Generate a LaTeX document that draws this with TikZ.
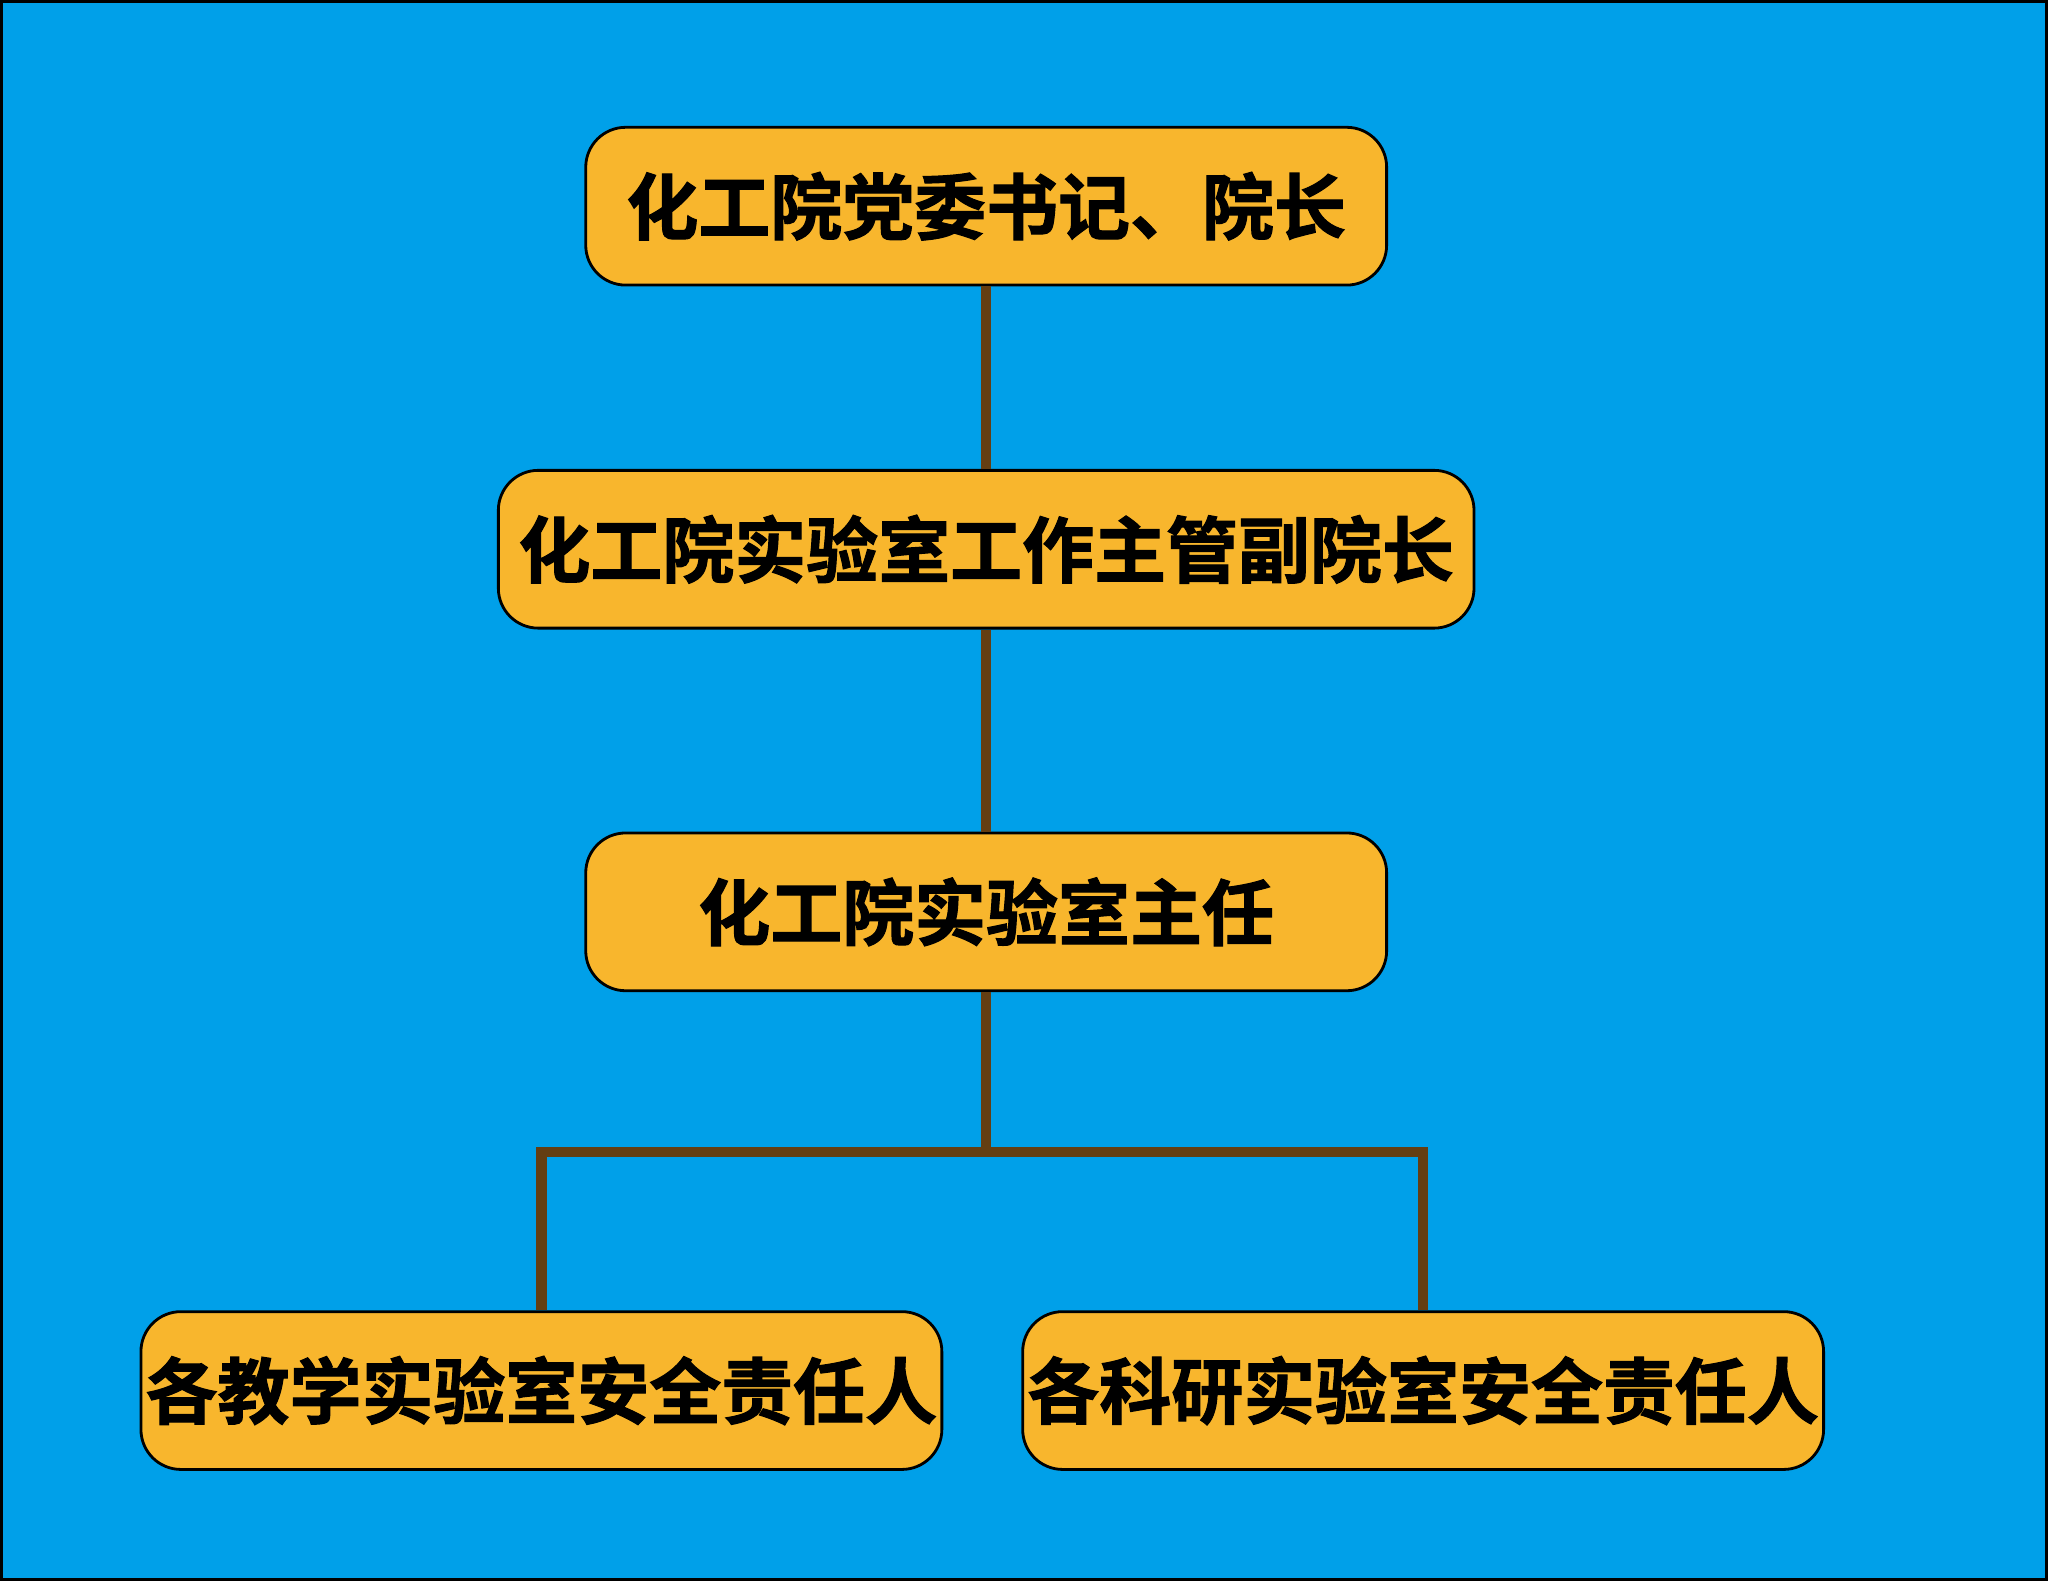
\documentclass[tikz,border=0pt]{standalone}
\usepackage{fontspec}
\newfontfamily\cjk[FakeBold=1.5]{Noto Sans CJK SC Bold}
\definecolor{bgblue}{HTML}{00A0E9}
\definecolor{boxfill}{HTML}{F8B62D}
\definecolor{linkbrown}{HTML}{643E12}
\begin{document}
\begin{tikzpicture}
	[x=0.01306cm, y=-0.01306cm,
	role/.style ={rectangle, draw=black, thick, fill=boxfill, rounded corners=0.4cm, inner xsep=0pt, minimum height=1.58cm, minimum width=8.02cm, align=center, font=\cjk\fontsize{20.5}{24}\selectfont},
	widerole/.style ={role, minimum width=9.77cm},
	link/.style ={draw=linkbrown, line width=3pt}]
	\fill[bgblue] (0,0) rectangle (1568,1210);
	\draw[black, thick] (0,0) rectangle (1568,1210);
	\useasboundingbox (0,0) rectangle (1568,1210);
	\draw (755, 157) node[role] (dean) {化工院党委书记、院长};
	\draw (755, 420) node[widerole] (vice) {化工院实验室工作主管副院长};
	\draw (755, 698) node[role] (head) {化工院实验室主任};
	\draw (414, 1065) node[role] (teach) {各教学实验室安全责任人};
	\draw (1090, 1065) node[role] (research) {各科研实验室安全责任人};
	\coordinate (fork) at (755, 882);
	\draw[link] (dean) -- (vice);
	\draw[link] (vice) -- (head);
	\draw[link] (head) -- (fork);
	\draw[link] (fork) -| (teach);
	\draw[link] (fork) -| (research);
\end{tikzpicture}
\end{document}
